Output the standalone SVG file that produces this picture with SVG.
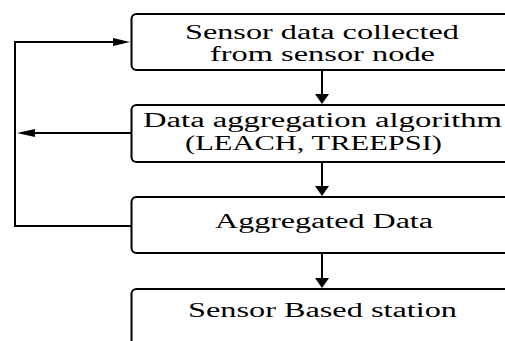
<svg xmlns="http://www.w3.org/2000/svg" width="505" height="341" viewBox="0 0 505 341">
<style>
.box{fill:#fff;stroke:#000;stroke-width:2}
.lbl{font-family:"Liberation Serif","Times New Roman",serif;font-size:20px;fill:#000}
.ln{fill:none;stroke:#000;stroke-width:2}
.ah{fill:#000;stroke:none}
</style>
<g id="node1">
<rect class="box" x="131.5" y="14" width="400" height="56" rx="5"/>
<text class="lbl" x="185" y="39" textLength="274" lengthAdjust="spacingAndGlyphs">Sensor data collected</text>
<text class="lbl" x="210" y="61" textLength="225" lengthAdjust="spacingAndGlyphs">from sensor node</text>
</g>
<g id="node2">
<rect class="box" x="131.5" y="105" width="400" height="57" rx="5"/>
<text class="lbl" x="143" y="127" textLength="359" lengthAdjust="spacingAndGlyphs">Data aggregation algorithm</text>
<text class="lbl" x="185" y="150" textLength="257" lengthAdjust="spacingAndGlyphs">(LEACH, TREEPSI)</text>
</g>
<g id="node3">
<rect class="box" x="131.5" y="197" width="400" height="56" rx="5"/>
<text class="lbl" x="215" y="228" textLength="218" lengthAdjust="spacingAndGlyphs">Aggregated Data</text>
</g>
<g id="node4">
<rect class="box" x="131.5" y="289" width="400" height="80" rx="5"/>
<text class="lbl" x="188" y="317" textLength="269" lengthAdjust="spacingAndGlyphs">Sensor Based station</text>
</g>
<g id="connectors">
<line class="ln" x1="322" y1="70" x2="322" y2="96"/>
<polygon class="ah" points="315,94 329,94 322,104"/>
<line class="ln" x1="322" y1="162" x2="322" y2="188"/>
<polygon class="ah" points="315,186 329,186 322,196"/>
<line class="ln" x1="322" y1="253" x2="322" y2="280"/>
<polygon class="ah" points="315,278 329,278 322,288"/>
<polyline class="ln" points="131,226 15,226 15,42 115,42"/>
<polygon class="ah" points="113,38 130,42 113,46"/>
<line class="ln" x1="131" y1="133" x2="33" y2="133"/>
<polygon class="ah" points="35,129 17,133 35,137"/>
</g>
</svg>
